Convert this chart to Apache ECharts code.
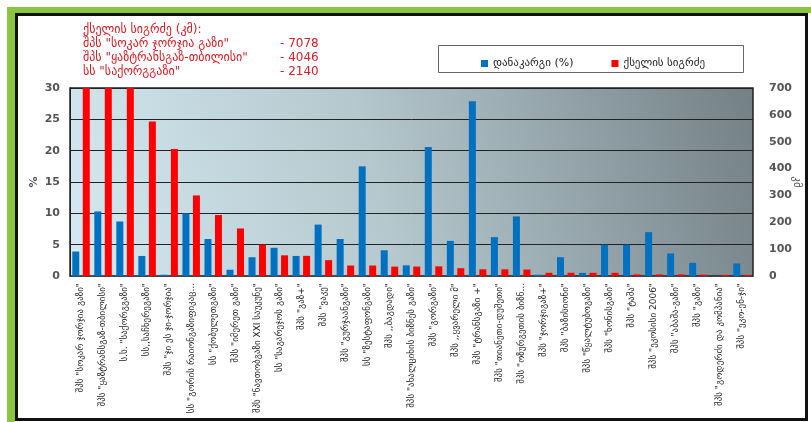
<!DOCTYPE html>
<html>
<head>
<meta charset="utf-8">
<script src="https://cdn.jsdelivr.net/npm/echarts@6/dist/echarts.min.js"></script>
<style>
  html, body { margin: 0; padding: 0; background: #fff; }
  #root { width: 811px; height: 422px; }
</style>
</head>
<body>
<div id="root"></div>
<script>
var companies = [
  'შპს "სოკარ ჯორჯია გაზი"',
  'შპს "ყაზტრანსგაზ-თბილისი"',
  'ს.ს. "საქორგგაზი"',
  'სს,,საჩხერეგაზი"',
  'შპს "ჯი ეს ჯი-ჯორჯია"',
  'სს "გორის რაიონგაზიფიკაც...',
  'სს "ქობულეთგაზი"',
  'შპს "იმერეთ გაზი"',
  'შპს "ნავთობგაზი XXI საუკუნე"',
  'სს "საგარეჯოს გაზი"',
  'შპს "გაზ+"',
  'შპს "ვაკე"',
  'შპს "გურჯაანგაზი"',
  'სს "ზესტაფონგაზი"',
  'შპს ,,ბაგდადი"',
  'შპს "ახალციხის ბიზნეს გაზი"',
  'შპს "გორგაზი"',
  'შპს ,,ყვარელი მ"',
  'შპს "ტრანსგაზი +"',
  'შპს "თიანეთი-დუშეთი"',
  'შპს "ოზურგეთის ბიზნ...',
  'შპს "ჯორჯიგაზ+"',
  'შპს "ბაზისიონი"',
  'შპს "წყალტუბოგაზი"',
  'შპს "ხონისგაზი"',
  'შპს "ტაშა"',
  'შპს "ეკოსისი 2006"',
  'შპს "აბაშა-გაზი"',
  'შპს "გაზი"',
  'შპს "გოდერძი და კომპანია"',
  'შპს "ეკო-ენ-ჯი"'
];

// loss, %
var lossPct = [3.9, 10.3, 8.7, 3.2, 0.2, 10.0, 5.9, 1.0, 3.0, 4.5, 3.2, 8.2, 5.9, 17.5, 4.1, 1.7,
  20.6, 5.6, 27.9, 6.2, 9.5, 0.2, 3.0, 0.5, 5.0, 5.0, 7.0, 3.6, 2.1, 0, 2.0];

// network length, km
var lengthKm = [7078, 4046, 2140, 575, 473, 300, 227, 177, 117, 77, 75, 59, 39, 39, 35, 35,
  36, 29, 25, 25, 24, 12, 12, 12, 12, 6, 6, 6, 5, 4, 4];

var pctTicks = { min: 0, max: 30, interval: 5 };
var kmTicks = { min: 0, max: 700, interval: 100 };

var noteTitle = 'ქსელის სიგრძე (კმ):';
var noteNames = ['შპს "სოკარ ჯორჯია გაზი"', 'შპს "ყაზტრანსგაზ-თბილისი"', 'სს "საქორგგაზი"'];
var noteValues = ['- 7078', '- 4046', '- 2140'];

var legendNames = ['დანაკარგი (%)', 'ქსელის სიგრძე'];

var font = 'DejaVu Sans';
var myCharts = echarts.init(document.getElementById('root'));

var noteGraphics = [{
  type: 'text', left: 83, top: 24,
  style: { text: noteTitle, fill: '#d42027', font: '12px "' + font + '"' }
}];
noteNames.forEach(function (n, i) {
  noteGraphics.push({
    type: 'text', left: 83, top: 38 + i * 14,
    style: { text: n, fill: '#d42027', font: '12px "' + font + '"' }
  });
  noteGraphics.push({
    type: 'text', left: 280, top: 38 + i * 14,
    style: { text: noteValues[i], fill: '#d42027', font: '12px "' + font + '"' }
  });
});

var option = {
  animation: false,
  textStyle: { fontFamily: font },
  graphic: [
    { type: 'rect', shape: { x: 7, y: 7, width: 8, height: 415 }, style: { fill: '#8cc63e' }, silent: true },
    { type: 'rect', shape: { x: 7, y: 7, width: 804, height: 6 }, style: { fill: '#8cc63e' }, silent: true },
    { type: 'rect', shape: { x: 16.5, y: 14.5, width: 790, height: 405 }, style: { fill: null, stroke: '#111', lineWidth: 3 }, silent: true },
    { type: 'rect', shape: { x: 438.5, y: 45.5, width: 305, height: 27 }, style: { fill: '#fff', stroke: '#666', lineWidth: 1 }, silent: true }
  ].concat(noteGraphics),
  legend: {
    left: 476, top: 53,
    itemWidth: 7, itemHeight: 7, itemGap: 38,
    icon: 'rect',
    textStyle: { fontSize: 11, color: '#222' },
    data: legendNames
  },
  grid: {
    left: 70, right: 58, top: 88, bottom: 146,
    outerBoundsMode: 'none',
    containLabel: false,
    show: true,
    borderColor: '#222', borderWidth: 1.5,
    backgroundColor: new echarts.graphic.LinearGradient(0, 1, 1, 0, [
      { offset: 0, color: '#d4e9f1' },
      { offset: 0.45, color: '#b5c8ce' },
      { offset: 1, color: '#738086' }
    ])
  },
  xAxis: {
    type: 'category',
    data: companies,
    axisLine: { lineStyle: { color: '#444' } },
    axisTick: { show: false },
    axisLabel: { interval: 0, rotate: 90, fontSize: 9, color: '#222', margin: 7 }
  },
  yAxis: [
    {
      type: 'value', min: pctTicks.min, max: pctTicks.max, interval: pctTicks.interval,
      name: '%', nameLocation: 'middle', nameGap: 30, nameRotate: 90,
      nameMoveOverlap: false,
      nameTextStyle: { color: '#555', fontSize: 11, fontWeight: 'bold' },
      axisLine: { show: true, lineStyle: { color: '#222' } },
      axisTick: { show: false },
      axisLabel: { color: '#555', fontSize: 11, fontWeight: 'bold', margin: 10 },
      splitLine: { lineStyle: { color: '#222', width: 1 } }
    },
    {
      type: 'value', min: kmTicks.min, max: kmTicks.max, interval: kmTicks.interval,
      name: 'კმ', nameLocation: 'middle', nameGap: 38, nameRotate: -90,
      nameMoveOverlap: false,
      nameTextStyle: { color: '#555', fontSize: 11 },
      axisLine: { show: false },
      axisTick: { show: false },
      axisLabel: { color: '#555', fontSize: 11, fontWeight: 'bold', margin: 16 },
      splitLine: { show: false }
    }
  ],
  series: [
    {
      name: legendNames[0],
      type: 'bar',
      yAxisIndex: 0,
      barWidth: 7,
      barGap: '50%',
      itemStyle: { color: '#0070c0' },
      data: lossPct
    },
    {
      name: legendNames[1],
      type: 'bar',
      yAxisIndex: 1,
      barWidth: 7,
      clip: true,
      itemStyle: { color: '#ff0000' },
      data: lengthKm
    }
  ]
};
myCharts.setOption(option);
</script>
</body>
</html>
